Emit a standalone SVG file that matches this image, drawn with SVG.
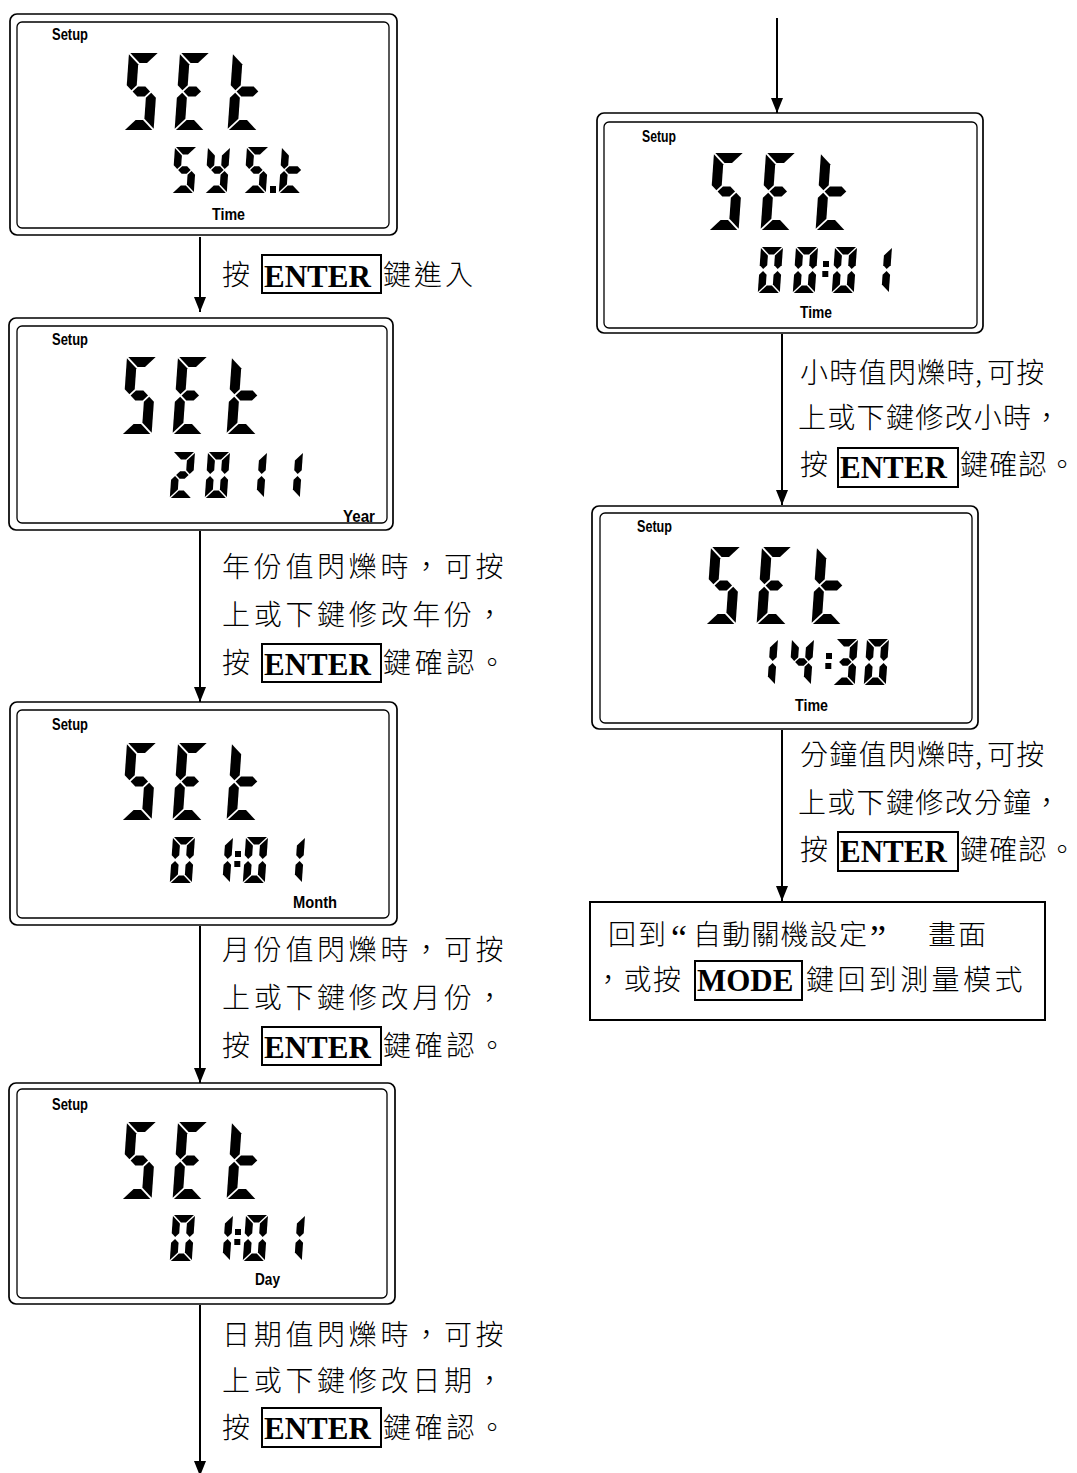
<svg xmlns="http://www.w3.org/2000/svg" width="1077" height="1473" viewBox="0 0 1077 1473">
<style>
.lo{fill:#fff;stroke:#000;stroke-width:1.7}
.li{fill:none;stroke:#000;stroke-width:1.3}
.lbl{font-family:"Liberation Sans Narrow","Liberation Sans",Arial,sans-serif;font-weight:bold;font-size:17px;fill:#000}
.zh{font-family:"Noto Sans CJK TC","Noto Sans CJK SC",sans-serif;font-size:28px;font-weight:300;fill:#000}
.zl{letter-spacing:3.7px}
.zr{letter-spacing:1.3px}
.key{font-family:"Liberation Serif","Times New Roman",serif;font-weight:bold;font-size:31px;fill:#000}
.kbox{fill:#fff;stroke:#000;stroke-width:2}
.q{font-family:"Liberation Serif","Times New Roman",serif;font-size:36px;fill:#000}
.conn line{stroke:#000;stroke-width:2;fill:none}
.seg{fill:#000}
</style>
<defs>
<marker id="ah" markerUnits="userSpaceOnUse" markerWidth="15" markerHeight="12" refX="15" refY="6" orient="auto">
<path d="M0,0 L15,6 L0,12 z" fill="#000"/>
</marker>
<!-- big segments W=30 H=77 -->
<polygon id="Ba" points="1.3,0 28.7,0 18.7,10 11.3,10"/>
<polygon id="Bd" points="1.3,77 28.7,77 18.7,67 11.3,67"/>
<polygon id="Bf" points="0,1.3 10,11.3 10,32.2 5,37.2 0,32.2"/>
<polygon id="Bb" points="30,1.3 20,11.3 20,32.2 25,37.2 30,32.2"/>
<polygon id="Be" points="0,75.7 10,65.7 10,44.8 5,39.8 0,44.8"/>
<polygon id="Bc" points="30,75.7 20,65.7 20,44.8 25,39.8 30,44.8"/>
<polygon id="Bg" points="6.3,38.5 11.3,33.5 18.7,33.5 23.7,38.5 18.7,43.5 11.3,43.5"/>
<polygon id="Bgt" points="6.3,38.5 11.3,33.5 23,33.5 28,38.5 23,43.5 11.3,43.5"/>
<g id="BS" class="seg"><use href="#Ba"/><use href="#Bf"/><use href="#Bg"/><use href="#Bc"/><use href="#Bd"/></g>
<g id="BE" class="seg"><use href="#Ba"/><use href="#Bf"/><use href="#Bg"/><use href="#Be"/><use href="#Bd"/></g>
<g id="Bt" class="seg"><use href="#Bf"/><use href="#Bgt"/><use href="#Be"/><use href="#Bd"/></g>
<!-- small segments W=22 H=46 -->
<polygon id="sa" points="1,0 21,0 13.5,7.5 8.5,7.5"/>
<polygon id="sd" points="1,46 21,46 13.5,38.5 8.5,38.5"/>
<polygon id="sf" points="0,1 7.5,8.5 7.5,18.25 3.75,22 0,18.25"/>
<polygon id="sb" points="22,1 14.5,8.5 14.5,18.25 18.25,22 22,18.25"/>
<polygon id="se" points="0,45 7.5,37.5 7.5,27.75 3.75,24 0,27.75"/>
<polygon id="sc" points="22,45 14.5,37.5 14.5,27.75 18.25,24 22,27.75"/>
<polygon id="sg" points="4.75,23 8.5,19.25 13.5,19.25 17.25,23 13.5,26.75 8.5,26.75"/>
<polygon id="sgt" points="4.75,23 8.5,19.25 17,19.25 20.75,23 17,26.75 8.5,26.75"/>
<g id="g0" class="seg"><use href="#sa"/><use href="#sb"/><use href="#sc"/><use href="#sd"/><use href="#se"/><use href="#sf"/></g>
<g id="g1" class="seg"><use href="#sb"/><use href="#sc"/></g>
<g id="g2" class="seg"><use href="#sa"/><use href="#sb"/><use href="#sg"/><use href="#se"/><use href="#sd"/></g>
<g id="g3" class="seg"><use href="#sa"/><use href="#sb"/><use href="#sg"/><use href="#sc"/><use href="#sd"/></g>
<g id="g4" class="seg"><use href="#sf"/><use href="#sg"/><use href="#sb"/><use href="#sc"/></g>
<g id="gS" class="seg"><use href="#sa"/><use href="#sf"/><use href="#sg"/><use href="#sc"/><use href="#sd"/></g>
<g id="gt" class="seg"><use href="#sf"/><use href="#sgt"/><use href="#se"/><use href="#sd"/></g>
<g id="gY" class="seg"><use href="#sf"/><use href="#sb"/><use href="#sg"/><use href="#sc"/><use href="#sd"/></g>
<g id="col" class="seg"><rect x="0" y="0" width="6" height="6"/><rect x="-0.7" y="10" width="6" height="6"/></g>
</defs>
<rect width="1077" height="1473" fill="#fff"/>

<g class="conn" id="connectors">
<line x1="200" y1="237" x2="200" y2="312" marker-end="url(#ah)"/>
<line x1="200" y1="531" x2="200" y2="702" marker-end="url(#ah)"/>
<line x1="200" y1="926" x2="200" y2="1083" marker-end="url(#ah)"/>
<line x1="200" y1="1305" x2="200" y2="1476" marker-end="url(#ah)"/>
<line x1="777" y1="18" x2="777" y2="113" marker-end="url(#ah)"/>
<line x1="782" y1="334" x2="782" y2="505" marker-end="url(#ah)"/>
<line x1="782" y1="730" x2="782" y2="901" marker-end="url(#ah)"/>
</g>

<g id="screen-systime">
<rect class="lo" x="10" y="14" width="387" height="221" rx="7"/>
<rect class="li" x="17" y="22" width="372" height="206" rx="5"/>
<text class="lbl" x="52" y="40" textLength="36" lengthAdjust="spacingAndGlyphs">Setup</text>
<use href="#BS" transform="translate(129,53) skewX(-4)"/>
<use href="#BE" transform="translate(180,53) skewX(-4)"/>
<use href="#Bt" transform="translate(233,53) skewX(-4)"/>
<use href="#gS" transform="translate(175,147) skewX(-4)"/>
<use href="#gY" transform="translate(208,147) skewX(-4)"/>
<use href="#gS" transform="translate(247,147) skewX(-4)"/>
<rect class="seg" x="270" y="186" width="6" height="7"/>
<use href="#gt" transform="translate(282,147) skewX(-4)"/>
<text class="lbl" x="212" y="220" textLength="33" lengthAdjust="spacingAndGlyphs">Time</text>
</g>

<g id="screen-year">
<rect class="lo" x="9" y="318" width="384" height="212" rx="7"/>
<rect class="li" x="17" y="326" width="370" height="197" rx="5"/>
<text class="lbl" x="52" y="345" textLength="36" lengthAdjust="spacingAndGlyphs">Setup</text>
<use href="#BS" transform="translate(127,357) skewX(-4)"/>
<use href="#BE" transform="translate(178,357) skewX(-4)"/>
<use href="#Bt" transform="translate(232,357) skewX(-4)"/>
<use href="#g2" transform="translate(173,452) skewX(-4)"/>
<use href="#g0" transform="translate(208,452) skewX(-4)"/>
<use href="#g1" transform="translate(245,452) skewX(-4)"/>
<use href="#g1" transform="translate(281,452) skewX(-4)"/>
<text class="lbl" x="343" y="522" textLength="32" lengthAdjust="spacingAndGlyphs">Year</text>
</g>

<g id="screen-month">
<rect class="lo" x="10" y="702" width="387" height="223" rx="7"/>
<rect class="li" x="17" y="710" width="372" height="208" rx="5"/>
<text class="lbl" x="52" y="730" textLength="36" lengthAdjust="spacingAndGlyphs">Setup</text>
<use href="#BS" transform="translate(127,743) skewX(-4)"/>
<use href="#BE" transform="translate(178,743) skewX(-4)"/>
<use href="#Bt" transform="translate(232,743) skewX(-4)"/>
<use href="#g0" transform="translate(173,837) skewX(-4)"/>
<use href="#g1" transform="translate(211,837) skewX(-4)"/>
<use href="#col" transform="translate(235,851)"/>
<use href="#g0" transform="translate(246,837) skewX(-4)"/>
<use href="#g1" transform="translate(283,837) skewX(-4)"/>
<text class="lbl" x="293" y="908" textLength="44" lengthAdjust="spacingAndGlyphs">Month</text>
</g>

<g id="screen-day">
<rect class="lo" x="9" y="1083" width="386" height="221" rx="7"/>
<rect class="li" x="17" y="1089" width="370" height="209" rx="5"/>
<text class="lbl" x="52" y="1110" textLength="36" lengthAdjust="spacingAndGlyphs">Setup</text>
<use href="#BS" transform="translate(127,1122) skewX(-4)"/>
<use href="#BE" transform="translate(178,1122) skewX(-4)"/>
<use href="#Bt" transform="translate(232,1122) skewX(-4)"/>
<use href="#g0" transform="translate(173,1215) skewX(-4)"/>
<use href="#g1" transform="translate(211,1215) skewX(-4)"/>
<use href="#col" transform="translate(235,1229)"/>
<use href="#g0" transform="translate(246,1215) skewX(-4)"/>
<use href="#g1" transform="translate(283,1215) skewX(-4)"/>
<text class="lbl" x="255" y="1285" textLength="25" lengthAdjust="spacingAndGlyphs">Day</text>
</g>

<g id="screen-hour">
<rect class="lo" x="597" y="113" width="386" height="220" rx="7"/>
<rect class="li" x="604" y="122" width="373" height="206" rx="5"/>
<text class="lbl" x="642" y="142" textLength="34" lengthAdjust="spacingAndGlyphs">Setup</text>
<use href="#BS" transform="translate(714,153) skewX(-4)"/>
<use href="#BE" transform="translate(766,153) skewX(-4)"/>
<use href="#Bt" transform="translate(821,153) skewX(-4)"/>
<use href="#g0" transform="translate(761,247) skewX(-4)"/>
<use href="#g0" transform="translate(796,247) skewX(-4)"/>
<use href="#col" transform="translate(823,261)"/>
<use href="#g0" transform="translate(835,247) skewX(-4)"/>
<use href="#g1" transform="translate(870,247) skewX(-4)"/>
<text class="lbl" x="800" y="318" textLength="32" lengthAdjust="spacingAndGlyphs">Time</text>
</g>

<g id="screen-minute">
<rect class="lo" x="592" y="506" width="386" height="223" rx="7"/>
<rect class="li" x="600" y="513" width="372" height="210" rx="5"/>
<text class="lbl" x="637" y="532" textLength="35" lengthAdjust="spacingAndGlyphs">Setup</text>
<use href="#BS" transform="translate(711,547) skewX(-4)"/>
<use href="#BE" transform="translate(762,547) skewX(-4)"/>
<use href="#Bt" transform="translate(817,547) skewX(-4)"/>
<use href="#g1" transform="translate(756,639) skewX(-4)"/>
<use href="#g4" transform="translate(792,639) skewX(-4)"/>
<use href="#col" transform="translate(826,653)"/>
<use href="#g3" transform="translate(836,639) skewX(-4)"/>
<use href="#g0" transform="translate(867,639) skewX(-4)"/>
<text class="lbl" x="795" y="711" textLength="33" lengthAdjust="spacingAndGlyphs">Time</text>
</g>

<g id="label-enter">
<text class="zh" x="222" y="285">按</text>
<rect class="kbox" x="262" y="255" width="119" height="38"/>
<text class="key" x="264" y="287">ENTER</text>
<text class="zh" x="383" y="285" style="letter-spacing:3px">鍵進入</text>
</g>

<g id="label-year">
<text class="zh zl" x="222" y="577">年份值閃爍時，可按</text>
<text class="zh zl" x="222" y="625">上或下鍵修改年份，</text>
<text class="zh" x="222" y="673">按</text>
<rect class="kbox" x="262" y="644" width="119" height="38"/>
<text class="key" x="264" y="675">ENTER</text>
<text class="zh zl" x="383" y="673">鍵確認。</text>
</g>

<g id="label-month">
<text class="zh zl" x="222" y="960">月份值閃爍時，可按</text>
<text class="zh zl" x="222" y="1008">上或下鍵修改月份，</text>
<text class="zh" x="222" y="1056">按</text>
<rect class="kbox" x="262" y="1027" width="119" height="38"/>
<text class="key" x="264" y="1058">ENTER</text>
<text class="zh zl" x="383" y="1056">鍵確認。</text>
</g>

<g id="label-day">
<text class="zh zl" x="222" y="1345">日期值閃爍時，可按</text>
<text class="zh zl" x="222" y="1391">上或下鍵修改日期，</text>
<text class="zh" x="222" y="1438">按</text>
<rect class="kbox" x="262" y="1408" width="119" height="39"/>
<text class="key" x="264" y="1439">ENTER</text>
<text class="zh zl" x="383" y="1438">鍵確認。</text>
</g>

<g id="label-hour">
<text class="zh zr" x="800" y="383">小時值閃爍時<tspan x="975">,</tspan><tspan x="987">可按</tspan></text>
<text class="zh zr" x="798" y="428">上或下鍵修改小時，</text>
<text class="zh" x="800" y="475">按</text>
<rect class="kbox" x="838" y="448" width="120" height="39"/>
<text class="key" x="840" y="478">ENTER</text>
<text class="zh zr" x="960" y="475">鍵確認。</text>
</g>

<g id="label-minute">
<text class="zh zr" x="800" y="765">分鐘值閃爍時<tspan x="975">,</tspan><tspan x="987">可按</tspan></text>
<text class="zh zr" x="798" y="813">上或下鍵修改分鐘，</text>
<text class="zh" x="800" y="860">按</text>
<rect class="kbox" x="838" y="832" width="120" height="39"/>
<text class="key" x="840" y="862">ENTER</text>
<text class="zh zr" x="960" y="860">鍵確認。</text>
</g>

<g id="box-return">
<rect x="590" y="902" width="455" height="118" fill="#fff" stroke="#000" stroke-width="2"/>
<text class="zh" x="608" y="945" style="letter-spacing:2px">回到</text>
<text class="q" x="671" y="950">“</text>
<text class="zh" x="693" y="945" style="letter-spacing:1.2px">自動關機設定</text>
<text class="q" x="870" y="950">”</text>
<text class="zh" x="928" y="945" style="letter-spacing:2px">畫面</text>
<text class="zh" x="594" y="990" style="letter-spacing:1.5px">，或按</text>
<rect class="kbox" x="695" y="961" width="107" height="39"/>
<text class="key" x="697" y="991">MODE</text>
<text class="zh" x="806" y="990" style="letter-spacing:3.4px">鍵回到測量模式</text>
</g>
</svg>
